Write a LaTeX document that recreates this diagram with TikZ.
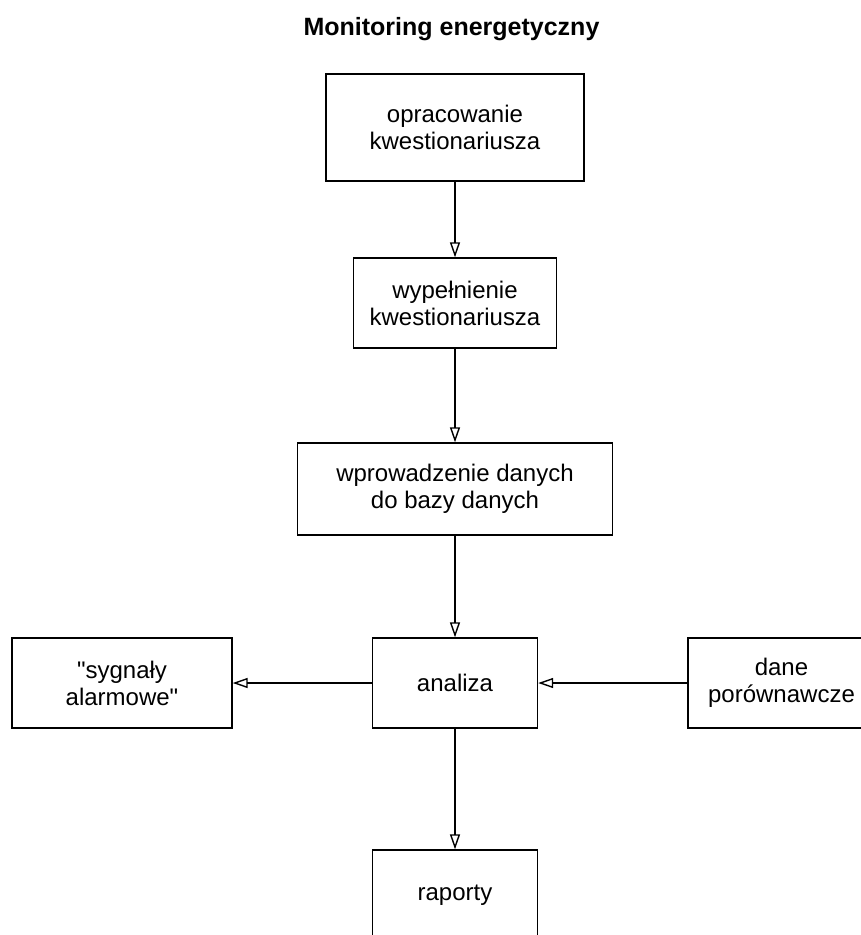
\documentclass[tikz,border=0pt]{standalone}
\usepackage{fontspec}
\setmainfont{Liberation Sans}[Ligatures=TeXOff]
\usetikzlibrary{arrows.meta}

\begin{document}
\begin{tikzpicture}[x=1pt, y=-1pt,
    box/.style={draw, line width=1.4pt, inner sep=0pt, align=center,
        font=\fontsize{24}{27}\selectfont},
    flow/.style={-{Triangle[open, length=15pt, width=10pt]}, line width=1.4pt}]
    \useasboundingbox (0,0) rectangle (861,935);

    \node[font=\bfseries\fontsize{25}{30}\selectfont, anchor=base] (title) at (451.5,35) {Monitoring energetyczny};

    \node[box, minimum width=258pt, minimum height=107pt] (opr) at (455,127.5) {opracowanie\\kwestionariusza};
    \node[box, minimum width=203pt, minimum height=90pt] (wyp) at (455,303) {wypełnienie\\kwestionariusza};
    \node[box, minimum width=315pt, minimum height=92pt] (wpr) at (455,489) {wprowadzenie danych\\do bazy danych};
    \node[box, minimum width=165pt, minimum height=90pt] (ana) at (455,683) {analiza};
    \node[box, minimum width=220pt, minimum height=90pt] (syg) at (122,683) {"sygnały\\alarmowe"};
    \node[box, minimum width=187pt, minimum height=90pt] (dane) at (781.5,683) {dane\\porównawcze};
    \node[box, minimum width=165pt, minimum height=90pt] (rap) at (455,895) {raporty};

    \draw[flow] (opr) -- (wyp);
    \draw[flow] (wyp) -- (wpr);
    \draw[flow] (wpr) -- (ana);
    \draw[flow] (ana) -- (syg);
    \draw[flow] (dane) -- (ana);
    \draw[flow] (ana) -- (rap);
\end{tikzpicture}
\end{document}
